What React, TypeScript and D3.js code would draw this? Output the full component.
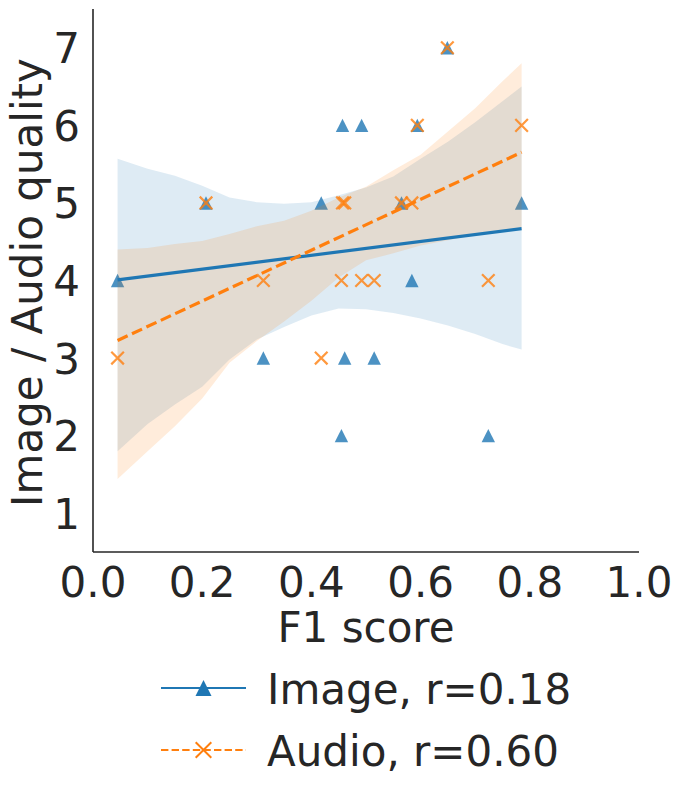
import { area, line, mean, scaleLinear, extent } from "d3";

// F1 score per sample, with the rated image / audio quality for it
const f1Scores = [0.045, 0.207, 0.312, 0.418, 0.455, 0.457, 0.461, 0.492, 0.515, 0.565, 0.584, 0.594, 0.649, 0.724, 0.785];
const imageQuality = [4, 5, 3, 5, 2, 6, 3, 6, 3, 5, 4, 6, 7, 2, 5];
const audioQuality = [3, 5, 4, 3, 4, 5, 5, 4, 4, 5, 5, 6, 7, 4, 6];

// confidence bands
const bandX = [0.045, 0.1, 0.15, 0.2, 0.25, 0.3, 0.35, 0.4, 0.45, 0.5, 0.55, 0.6, 0.65, 0.7, 0.75, 0.785];
const imageBandLow = [1.8, 2.15, 2.4, 2.63, 2.98, 3.24, 3.4, 3.55, 3.64, 3.63, 3.58, 3.51, 3.42, 3.31, 3.18, 3.11];
const imageBandHigh = [5.57, 5.44, 5.35, 5.22, 5.07, 5.01, 4.99, 5.01, 5.1, 5.2, 5.34, 5.57, 5.79, 6.04, 6.31, 6.5];
const audioBandLow = [1.44, 1.8, 2.12, 2.48, 2.94, 3.22, 3.47, 3.74, 4.04, 4.26, 4.35, 4.45, 4.52, 4.59, 4.64, 4.68];
const audioBandHigh = [4.4, 4.42, 4.47, 4.51, 4.6, 4.7, 4.77, 4.9, 5.07, 5.21, 5.42, 5.62, 5.92, 6.22, 6.57, 6.8];

const xTicks = [0, 0.2, 0.4, 0.6, 0.8, 1.0];
const yTicks = [1, 2, 3, 4, 5, 6, 7];
const legendLabels = ["Image, r=0.18", "Audio, r=0.60"];

const BLUE = "#1f77b4";
const ORANGE = "#ff7f0e";
const INK = "#262626";
const FONT = "'DejaVu Sans', sans-serif";

function fit(xs: number[], ys: number[]) {
  const mx = mean(xs) ?? 0;
  const my = mean(ys) ?? 0;
  let num = 0;
  let den = 0;
  xs.forEach((x, i) => {
    num += (x - mx) * (ys[i] - my);
    den += (x - mx) * (x - mx);
  });
  const slope = num / den;
  return (x: number) => my + slope * (x - mx);
}

function triangle(cx: number, cy: number, s: number) {
  return `M${cx},${cy - s}L${cx - s},${cy + s}L${cx + s},${cy + s}Z`;
}

function cross(cx: number, cy: number, s: number) {
  return `M${cx - s},${cy - s}L${cx + s},${cy + s}M${cx - s},${cy + s}L${cx + s},${cy - s}`;
}

export default function App() {
  const width = 682;
  const height = 800;
  const left = 93;
  const right = 639;
  const top = 9;
  const bottom = 552;

  const x = scaleLinear().domain([0, 1]).range([left, right]);
  const y = scaleLinear().domain([0.5, 7.5]).range([bottom, top]);

  const band = (low: number[], high: number[]) =>
    area<number>()
      .x((d) => x(d))
      .y0((_, i) => y(low[i]))
      .y1((_, i) => y(high[i]))(bandX) ?? "";

  const [x0, x1] = extent(f1Scores) as [number, number];
  const imageFit = fit(f1Scores, imageQuality);
  const audioFit = fit(f1Scores, audioQuality);
  const fitLine = (f: (v: number) => number) =>
    line<number>()
      .x((d) => x(d))
      .y((d) => y(f(d)))([x0, x1]) ?? "";

  return (
    <div style={{ position: "absolute", left: 0, top: 0 }}>
      <svg width={width} height={height} style={{ display: "block", background: "#fff" }} fontFamily={FONT}>
        {/* zorder 1: scatter and bands in draw order */}
        <g fill={BLUE} fillOpacity={0.8}>
          {f1Scores.map((f, i) => (
            <path key={i} d={triangle(x(f), y(imageQuality[i]), 6.7)} />
          ))}
        </g>
        <path d={band(imageBandLow, imageBandHigh)} fill={BLUE} fillOpacity={0.15} />
        <g stroke={ORANGE} strokeOpacity={0.8} strokeWidth={2.2} fill="none">
          {f1Scores.map((f, i) => (
            <path key={i} d={cross(x(f), y(audioQuality[i]), 6.3)} />
          ))}
        </g>
        <path d={band(audioBandLow, audioBandHigh)} fill={ORANGE} fillOpacity={0.15} />

        {/* regression lines */}
        <path d={fitLine(imageFit)} fill="none" stroke={BLUE} strokeWidth={3.2} />
        <path d={fitLine(audioFit)} fill="none" stroke={ORANGE} strokeWidth={3.2} strokeDasharray="11.1 4.8" />

        {/* spines */}
        <line x1={left} x2={left} y1={top} y2={bottom} stroke={INK} strokeWidth={1.6} />
        <line x1={left} x2={right} y1={bottom} y2={bottom} stroke={INK} strokeWidth={1.6} />

        <g fill={INK} fontSize={42}>
          {xTicks.map((t) => (
            <text key={t} x={x(t)} y={bottom + 45} textAnchor="middle">
              {t.toFixed(1)}
            </text>
          ))}
          {yTicks.map((t) => (
            <text key={t} x={left - 13} y={y(t) + 15.5} textAnchor="end">
              {t}
            </text>
          ))}
          <text x={(left + right) / 2} y={bottom + 90} textAnchor="middle">
            F1 score
          </text>
          <text transform={`translate(42,${(top + bottom) / 2 + 2}) rotate(-90)`} textAnchor="middle">
            Image / Audio quality
          </text>
        </g>

        {/* legend */}
        <g>
          <line x1={161} x2={246} y1={688} y2={688} stroke={BLUE} strokeWidth={2} />
          <path d={triangle(203.5, 688, 8)} fill={BLUE} />
          <line x1={161} x2={246} y1={750} y2={750} stroke={ORANGE} strokeWidth={2} strokeDasharray="7.4 3.2" />
          <path d={cross(203.5, 750, 7.8)} stroke={ORANGE} strokeWidth={2} fill="none" />
          {legendLabels.map((label, i) => (
            <text key={label} x={267} y={704 + i * 62} fill={INK} fontSize={42}>
              {label}
            </text>
          ))}
        </g>
      </svg>
    </div>
  );
}
